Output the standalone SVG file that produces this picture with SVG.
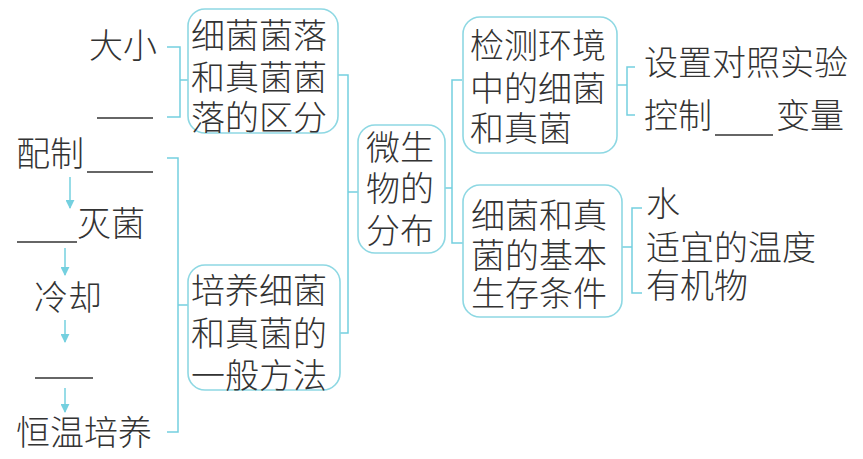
<svg xmlns="http://www.w3.org/2000/svg" width="863" height="459" viewBox="0 0 863 459">
<defs>
<style>
text{font-family:"Liberation Sans","Noto Sans CJK SC","Noto Sans CJK JP",sans-serif;font-size:34px;fill:#333;font-weight:300}
.box{fill:#fff;stroke:#8ed8e3;stroke-width:1.6}
.ln{fill:none;stroke:#74d0df;stroke-width:1.5}
.blank{stroke:#333;stroke-width:1.3}
.arr{stroke:#74d0df;stroke-width:1.5;marker-end:url(#ah)}
</style>
<marker id="ah" viewBox="0 0 10 10" refX="9" refY="5" markerWidth="9" markerHeight="9" markerUnits="userSpaceOnUse" orient="auto">
<path d="M0,0 L10,5 L0,10 z" fill="#74d0df"/>
</marker>
</defs>
<rect width="863" height="459" fill="#fff"/>
<g id="connectors">
<path class="ln" d="M167,47 H180 V117 H167 M180,80 H188"/>
<path class="ln" d="M167,158 H178 V432 H167 M178,305 H188"/>
<path class="ln" d="M338,75 H348 V333 H340 M348,192 H358"/>
<path class="ln" d="M445,188 H452 M462,80 H452 V243 H463"/>
<path class="ln" d="M635,67 H627 V115 H635 M617,85 H627"/>
<path class="ln" d="M642,208 H632 V293 H642 M622,247 H632"/>
<line class="arr" x1="70" y1="177" x2="70" y2="208"/>
<line class="arr" x1="65" y1="248" x2="65" y2="275"/>
<line class="arr" x1="65" y1="320" x2="65" y2="342"/>
<line class="arr" x1="65" y1="388" x2="65" y2="412"/>
</g>
<g id="n-qufen">
<rect class="box" x="188" y="9" width="150" height="124" rx="17"/>
<text x="191" y="48">细菌菌落</text>
<text x="191" y="90">和真菌菌</text>
<text x="191" y="130">落的区分</text>
</g>
<g id="n-daxiao"><text x="89" y="58">大小</text></g>
<g id="n-blank1"><line class="blank" x1="97" y1="118" x2="153" y2="118"/></g>
<g id="n-peizhi"><text x="16" y="166">配制</text><line class="blank" x1="87" y1="172" x2="153" y2="172"/></g>
<g id="n-miejun"><line class="blank" x1="17" y1="242" x2="77" y2="242"/><text x="77" y="236">灭菌</text></g>
<g id="n-lengque"><text x="34" y="310">冷却</text></g>
<g id="n-blank2"><line class="blank" x1="35" y1="378" x2="93" y2="378"/></g>
<g id="n-hengwen"><text x="16" y="445">恒温培养</text></g>
<g id="n-fangfa">
<rect class="box" x="188" y="265" width="152" height="125" rx="17"/>
<text x="191" y="303">培养细菌</text>
<text x="191" y="346">和真菌的</text>
<text x="191" y="388">一般方法</text>
</g>
<g id="n-center">
<rect class="box" x="358" y="125" width="87" height="128" rx="17"/>
<text x="366" y="160">微生</text>
<text x="366" y="201">物的</text>
<text x="366" y="243">分布</text>
</g>
<g id="n-jiance">
<rect class="box" x="463" y="17" width="154" height="136" rx="17"/>
<text x="470" y="58">检测环境</text>
<text x="470" y="101">中的细菌</text>
<text x="470" y="141">和真菌</text>
</g>
<g id="n-duizhao"><text x="644" y="75">设置对照实验</text></g>
<g id="n-kongzhi"><text x="644" y="128">控制</text><line class="blank" x1="715" y1="135" x2="773" y2="135"/><text x="776" y="128">变量</text></g>
<g id="n-tiaojian">
<rect class="box" x="463" y="185" width="159" height="132" rx="17"/>
<text x="471" y="228">细菌和真</text>
<text x="471" y="268">菌的基本</text>
<text x="471" y="306">生存条件</text>
</g>
<g id="n-shui"><text x="646" y="216">水</text></g>
<g id="n-wendu"><text x="646" y="260">适宜的温度</text></g>
<g id="n-youji"><text x="646" y="298">有机物</text></g>
</svg>
